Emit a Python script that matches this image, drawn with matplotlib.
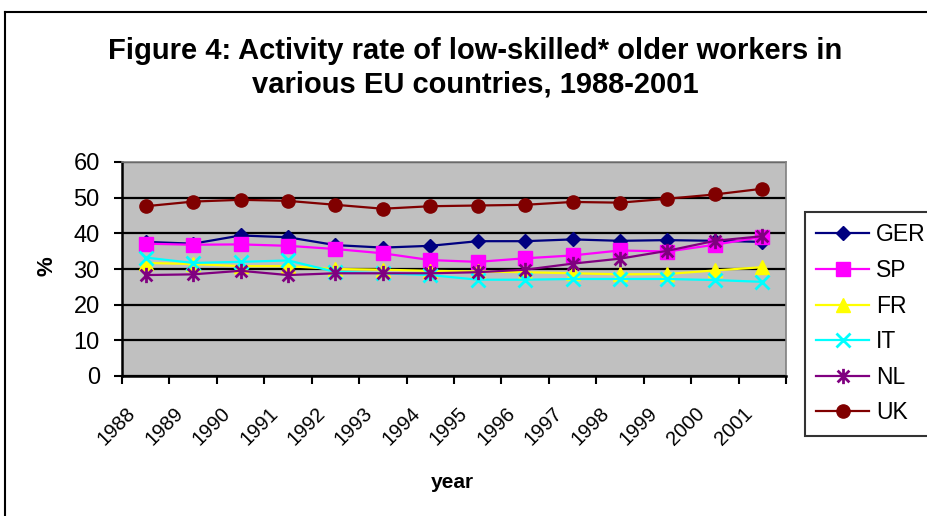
import matplotlib
matplotlib.use("Agg")
import matplotlib.pyplot as plt
from matplotlib.path import Path
from matplotlib.lines import Line2D

plt.rcParams["font.family"] = ["Liberation Sans", "DejaVu Sans"]

# Activity rates (%) by year
years = ["1988", "1989", "1990", "1991", "1992", "1993", "1994",
         "1995", "1996", "1997", "1998", "1999", "2000", "2001"]
ger = [37.6, 37.1, 39.4, 38.9, 36.7, 36.0, 36.5, 37.8, 37.8, 38.3, 37.9, 38.1, 37.9, 37.6]
sp = [37.1, 36.8, 36.9, 36.5, 35.6, 34.4, 32.5, 32.0, 33.0, 33.8, 35.2, 34.9, 36.8, 39.0]
fr = [31.7, 31.4, 30.8, 30.8, 30.0, 29.8, 29.5, 29.3, 29.1, 28.8, 28.5, 28.6, 29.6, 30.5]
it = [33.2, 31.7, 32.0, 32.4, 29.2, 28.8, 28.3, 27.0, 27.0, 27.2, 27.2, 27.2, 26.9, 26.4]
nl = [28.3, 28.5, 29.5, 28.3, 28.8, 28.8, 28.8, 29.1, 29.8, 31.5, 32.9, 35.1, 37.9, 39.2]
uk = [47.6, 48.9, 49.4, 49.1, 48.0, 46.9, 47.6, 47.8, 48.0, 48.8, 48.6, 49.7, 50.9, 52.5]

# asterisk marker: an X with a vertical bar through it
asterisk = Path([(-1, -1), (1, 1), (-1, 1), (1, -1), (0, -1.3), (0, 1.3)],
                [Path.MOVETO, Path.LINETO, Path.MOVETO, Path.LINETO, Path.MOVETO, Path.LINETO])

series = [
    ("GER", ger, "#000080", "D", 7),
    ("SP", sp, "#FF00FF", "s", 9.5),
    ("FR", fr, "#FFFF00", "^", 9.5),
    ("IT", it, "#00FFFF", "x", 9.5),
    ("NL", nl, "#800080", asterisk, 11),
    ("UK", uk, "#800000", "o", 9.5),
]

fig = plt.figure(figsize=(9.27, 5.16), dpi=100)
ax = fig.add_axes([122 / 927, 1 - 376 / 516, 664 / 927, 214 / 516])
ax.set_facecolor("#C0C0C0")

x = list(range(len(years)))
for name, vals, color, marker, ms in series:
    ax.plot(x, vals, color=color, lw=1.6, marker=marker, ms=ms,
            mfc=color, mec=color, mew=2 if marker in ("x", asterisk) else 1,
            label=name, clip_on=False)

ax.set_xlim(-0.5, len(years) - 0.5)
ax.set_ylim(0, 60)
ax.set_yticks(range(0, 61, 10))
ax.yaxis.grid(True, color="black", lw=1.6)
ax.set_axisbelow(True)

# ticks between categories, labels under each category
ax.set_xticks([i - 0.5 for i in range(len(years) + 1)])
ax.set_xticklabels([])
ax.set_xticks([i - 0.42 for i in x], minor=True)
ax.set_xticklabels(years, minor=True, rotation=45, ha="right", va="top",
                   rotation_mode="anchor", fontsize=14.5)
ax.tick_params(axis="x", which="minor", length=0, pad=20)
ax.tick_params(axis="x", which="major", length=6, width=1.5, direction="out")
ax.tick_params(axis="y", length=6, width=1.5, direction="out", pad=10, labelsize=17)

for side in ("top", "right"):
    ax.spines[side].set_color("#808080")
    ax.spines[side].set_linewidth(1.2)
for side in ("left", "bottom"):
    ax.spines[side].set_color("black")
    ax.spines[side].set_linewidth(1.8)

fig.text(475 / 927, 1 - 68 / 516,
         "Figure 4: Activity rate of low-skilled* older workers in\nvarious EU countries, 1988-2001",
         ha="center", va="center", fontsize=21, fontweight="bold", linespacing=1.25)
fig.text(452 / 927, 1 - 483 / 516, "year", ha="center", va="center",
         fontsize=15, fontweight="bold")
fig.text(47 / 927, 1 - 266 / 516, "%", ha="center", va="center", rotation=90,
         fontsize=16, fontweight="bold")

leg = fig.legend(loc="upper left", bbox_to_anchor=(805 / 927, 1 - 212 / 516),
                 frameon=True, fancybox=False, edgecolor="black", fontsize=16.5,
                 handlelength=2.3, handletextpad=0.3, borderpad=0.5,
                 labelspacing=0.55, borderaxespad=0)
leg.get_frame().set_linewidth(1.5)

# chart area border
fig.add_artist(Line2D([5 / 927, 5 / 927], [0, 1 - 12 / 516], color="black", lw=1.5))
fig.add_artist(Line2D([5 / 927, 1], [1 - 12 / 516, 1 - 12 / 516], color="black", lw=1.5))

fig.savefig("out.png", dpi=100)
